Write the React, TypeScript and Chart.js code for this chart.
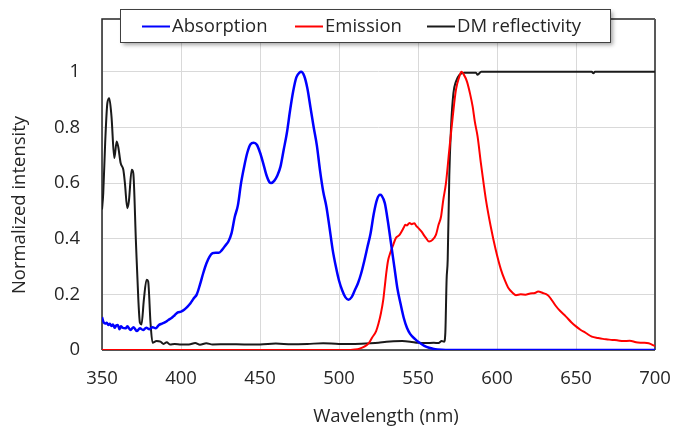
import { useEffect, useRef } from 'react';
import { Chart, registerables } from 'chart.js';

Chart.register(...registerables);

const seriesNames = ['Absorption', 'Emission', 'DM reflectivity'];
const seriesColors = ['#0000ff', '#ff0000', '#1a1a1a'];

const xTickValues = [350, 400, 450, 500, 550, 600, 650, 700];
const yTickValues = [0, 0.2, 0.4, 0.6, 0.8, 1];
const xTitle = 'Wavelength (nm)';
const yTitle = 'Normalized intensity';

const absorption: [number, number][] = [
  [350, 0.118], [351, 0.1], [352, 0.095], [353, 0.098], [354, 0.09], [355, 0.094], [356, 0.086],
  [357, 0.092], [358, 0.08], [359, 0.088], [360, 0.09], [361, 0.075], [362, 0.085], [363, 0.08],
  [365, 0.078], [366, 0.085], [368, 0.072], [370, 0.082], [372, 0.068], [374, 0.078], [376, 0.072],
  [378, 0.08], [380, 0.075], [382, 0.082], [384, 0.078], [386, 0.09], [388, 0.095], [390, 0.1],
  [392, 0.108], [394, 0.115], [396, 0.125], [398, 0.135], [400, 0.138], [402, 0.145], [404, 0.155],
  [406, 0.168], [408, 0.185], [410, 0.2], [412, 0.235], [414, 0.275], [416, 0.31], [418, 0.335],
  [420, 0.348], [422, 0.35], [424, 0.35], [426, 0.36], [428, 0.375], [430, 0.39], [432, 0.42],
  [434, 0.478], [436, 0.52], [438, 0.6], [440, 0.66], [442, 0.71], [444, 0.74], [446, 0.745],
  [448, 0.738], [450, 0.71], [452, 0.672], [454, 0.63], [456, 0.603], [457, 0.6], [459, 0.608],
  [461, 0.627], [463, 0.66], [465, 0.72], [467, 0.78], [469, 0.86], [471, 0.93], [473, 0.98],
  [475, 0.997], [476, 1.0], [478, 0.985], [480, 0.94], [482, 0.87], [484, 0.8], [486, 0.735],
  [488, 0.645], [490, 0.57], [492, 0.516], [494, 0.44], [496, 0.36], [498, 0.3], [500, 0.25],
  [502, 0.215], [504, 0.19], [506, 0.181], [508, 0.19], [510, 0.215], [512, 0.24], [514, 0.275],
  [516, 0.32], [518, 0.37], [520, 0.42], [522, 0.49], [524, 0.54], [526, 0.558], [527, 0.555],
  [529, 0.528], [531, 0.46], [533, 0.38], [535, 0.3], [537, 0.22], [539, 0.165], [541, 0.115],
  [543, 0.08], [545, 0.058], [548, 0.04], [551, 0.026], [554, 0.015], [557, 0.008], [560, 0.004],
  [565, 0.001], [570, 0], [700, 0],
];

const emission: [number, number][] = [
  [350, 0], [505, 0], [510, 0.002], [513, 0.005], [516, 0.012], [519, 0.026], [521, 0.045],
  [523.5, 0.068], [525, 0.095], [526.6, 0.134], [528, 0.18], [529, 0.23], [530, 0.28], [531, 0.32],
  [532.5, 0.35], [534, 0.373], [536, 0.403], [538, 0.412], [539, 0.42], [541, 0.44], [542, 0.45],
  [543, 0.448], [544.6, 0.457], [546, 0.452], [547.7, 0.456], [549, 0.445], [550, 0.44], [552, 0.427],
  [555, 0.403], [557, 0.39], [559, 0.395], [561.4, 0.415], [563, 0.45], [564.6, 0.48], [566, 0.54],
  [567.7, 0.6], [569.8, 0.72], [572, 0.84], [574, 0.935], [576, 0.98], [577.5, 1.0], [579, 0.99],
  [581, 0.965], [583, 0.92], [584.6, 0.875], [586, 0.82], [587.7, 0.768], [589.8, 0.672],
  [591.5, 0.6], [593, 0.54], [596, 0.445], [599, 0.365], [602.5, 0.289], [605, 0.25], [607, 0.225],
  [610, 0.205], [612, 0.197], [615, 0.2], [618, 0.199], [621, 0.203], [624, 0.205], [626, 0.21],
  [629, 0.205], [632, 0.198], [634, 0.185], [637, 0.16], [640, 0.14], [643.5, 0.121], [647, 0.1],
  [650, 0.085], [653, 0.072], [656, 0.062], [660, 0.048], [664, 0.043], [667, 0.04], [670, 0.038],
  [673, 0.036], [676, 0.035], [680, 0.032], [684, 0.033], [688, 0.028], [692, 0.026], [696, 0.024],
  [700, 0.014],
];

const dmReflectivity: [number, number][] = [
  [350, 0.505], [350.8, 0.565], [352, 0.744], [353.4, 0.888], [354.6, 0.905], [356, 0.84],
  [357.8, 0.69], [359.3, 0.75], [360.3, 0.73], [361.8, 0.672], [363.5, 0.648], [364.5, 0.6],
  [366, 0.51], [367, 0.534], [368.8, 0.648], [369.8, 0.636], [371.5, 0.385], [373, 0.181],
  [374, 0.098], [375, 0.092], [376.5, 0.181], [378.2, 0.253], [379.2, 0.247], [380.7, 0.098],
  [382, 0.026], [384.5, 0.032], [387, 0.03], [389, 0.022], [391, 0.028], [393, 0.02], [396, 0.022],
  [400, 0.02], [405, 0.02], [409, 0.025], [412, 0.019], [416, 0.024], [420, 0.02], [430, 0.021],
  [440, 0.02], [450, 0.02], [460, 0.023], [470, 0.021], [480, 0.022], [490, 0.024], [500, 0.022],
  [510, 0.022], [520, 0.024], [525, 0.026], [530, 0.03], [540, 0.032], [545, 0.03], [550, 0.026],
  [555, 0.025], [560, 0.026], [563, 0.025], [565, 0.032], [566.5, 0.03], [567.3, 0.062],
  [568.1, 0.253], [568.8, 0.325], [569.8, 0.624], [570.9, 0.8], [572.4, 0.923], [574, 0.965],
  [576.2, 0.989], [579.3, 0.997], [586.7, 0.997], [587.7, 0.99], [590, 1.0], [660, 1.0],
  [661, 0.995], [662, 1.0], [700, 1.0],
];

const allSeries = [absorption, emission, dmReflectivity];
const seriesWidths = [2.5, 2, 2];

const FONT = '"Open Sans", sans-serif';
const FONT_SIZE = 18.5;

const framePlugin = {
  id: 'frame',
  beforeDatasetsDraw(chart: any) {
    const { ctx, chartArea: a } = chart;
    ctx.save();
    ctx.lineWidth = 1.5;
    ctx.strokeStyle = '#262626';
    ctx.beginPath();
    ctx.moveTo(a.left, a.bottom);
    ctx.lineTo(a.left, a.top);
    ctx.lineTo(a.right, a.top);
    ctx.stroke();
    ctx.beginPath();
    ctx.moveTo(a.left, a.bottom);
    ctx.lineTo(a.right, a.bottom);
    ctx.stroke();
    ctx.lineWidth = 2;
    ctx.strokeStyle = '#595959';
    ctx.beginPath();
    ctx.moveTo(a.right, a.top);
    ctx.lineTo(a.right, a.bottom);
    ctx.stroke();
    ctx.restore();
  },
};

const titlesPlugin = {
  id: 'axisTitles',
  afterDraw(chart: any) {
    const { ctx } = chart;
    ctx.save();
    ctx.font = `${FONT_SIZE}px ${FONT}`;
    ctx.fillStyle = '#262626';
    ctx.textAlign = 'center';
    ctx.textBaseline = 'middle';
    ctx.fillText(xTitle, 386, 417);
    ctx.translate(20, 205);
    ctx.rotate(-Math.PI / 2);
    ctx.fillText(yTitle, 0, 0);
    ctx.restore();
  },
};

const legendPlugin = {
  id: 'boxLegend',
  afterDraw(chart: any) {
    const { ctx } = chart;
    const bx = 120, by = 9, bw = 490, bh = 33;
    ctx.save();
    ctx.shadowColor = 'rgba(0,0,0,0.35)';
    ctx.shadowBlur = 4;
    ctx.shadowOffsetX = 3;
    ctx.shadowOffsetY = 3;
    ctx.fillStyle = '#ffffff';
    ctx.fillRect(bx, by, bw, bh);
    ctx.shadowColor = 'transparent';
    ctx.lineWidth = 1;
    ctx.strokeStyle = '#404040';
    ctx.strokeRect(bx + 0.5, by + 0.5, bw, bh);
    const starts = [142, 295, 427];
    const cy = 26.5;
    ctx.font = `${FONT_SIZE}px ${FONT}`;
    ctx.textBaseline = 'middle';
    ctx.textAlign = 'left';
    seriesNames.forEach((name, i) => {
      ctx.strokeStyle = seriesColors[i];
      ctx.lineWidth = 2;
      ctx.beginPath();
      ctx.moveTo(starts[i], cy);
      ctx.lineTo(starts[i] + 28, cy);
      ctx.stroke();
      ctx.fillStyle = '#262626';
      ctx.fillText(name, starts[i] + 30, cy);
    });
    ctx.restore();
  },
};

const zeroPadding = (scale: any) => {
  scale.paddingTop = 0;
  scale.paddingBottom = 0;
  scale.paddingLeft = 0;
  scale.paddingRight = 0;
};

export default function App() {
  const ref = useRef<HTMLCanvasElement>(null);
  useEffect(() => {
    const canvas = ref.current!;
    const chart = new Chart(canvas, {
      type: 'line',
      data: {
        datasets: allSeries.map((s, i) => ({
          label: seriesNames[i],
          data: s.map(([x, y]) => ({ x, y })),
          borderColor: seriesColors[i],
          backgroundColor: seriesColors[i],
          borderWidth: seriesWidths[i],
          pointRadius: 0,
          cubicInterpolationMode: 'monotone' as const,
          fill: false,
        })),
      },
      options: {
        responsive: false,
        animation: false,
        devicePixelRatio: 1,
        layout: { padding: { top: 19, right: 20, left: 0, bottom: 0 } },
        plugins: { legend: { display: false }, tooltip: { enabled: false } },
        scales: {
          x: {
            type: 'linear',
            min: 350,
            max: 700,
            afterBuildTicks: (scale: any) => {
              scale.ticks = xTickValues.map((v) => ({ value: v }));
            },
            afterFit: (scale: any) => {
              scale.height = 80;
              zeroPadding(scale);
            },
            grid: { color: '#d9d9d9', lineWidth: 1, drawTicks: false },
            border: { display: false },
            ticks: {
              padding: 18,
              color: '#262626',
              font: { family: FONT, size: FONT_SIZE, lineHeight: 1.2 },
              maxRotation: 0,
            },
            title: { display: false },
          },
          y: {
            type: 'linear',
            min: 0,
            max: 1.19,
            afterBuildTicks: (scale: any) => {
              scale.ticks = yTickValues.map((v) => ({ value: v }));
            },
            afterFit: (scale: any) => {
              scale.width = 102;
              zeroPadding(scale);
            },
            grid: { color: '#d9d9d9', lineWidth: 1, drawTicks: false },
            border: { display: false },
            ticks: {
              padding: 22,
              color: '#262626',
              font: { family: FONT, size: FONT_SIZE, lineHeight: 1.2 },
              callback: (v: any) => String(Math.round(Number(v) * 10) / 10),
            },
            title: { display: false },
          },
        },
      },
      plugins: [framePlugin, titlesPlugin, legendPlugin],
    } as any);
    return () => chart.destroy();
  }, []);
  return (
    <div style={{ position: 'fixed', left: 0, top: 0, width: 675, height: 430, background: '#fff' }}>
      <canvas ref={ref} width={675} height={430} style={{ display: 'block' }} />
    </div>
  );
}
